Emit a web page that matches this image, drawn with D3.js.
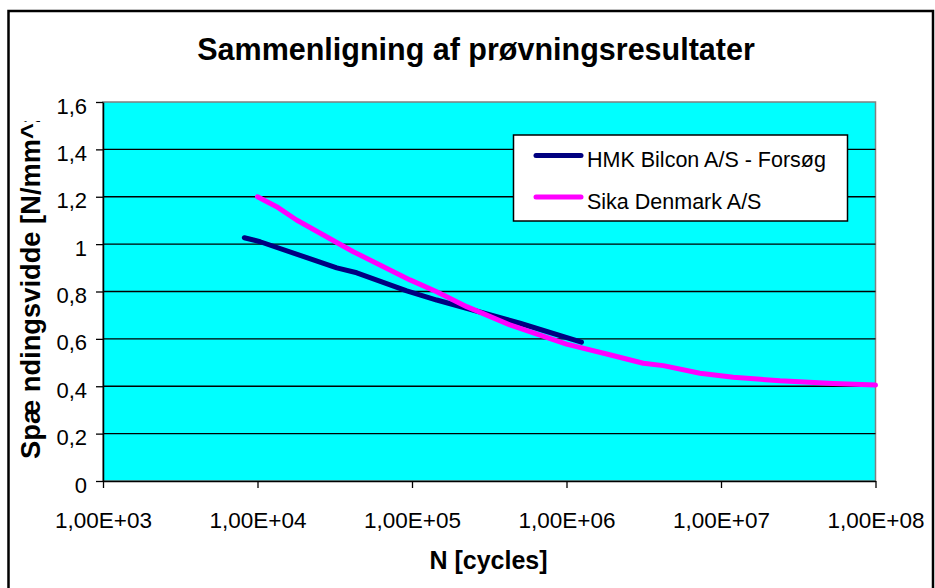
<!DOCTYPE html>
<html>
<head>
<meta charset="utf-8">
<script src="https://cdn.jsdelivr.net/npm/d3@7"></script>
<style>
  html, body { margin: 0; padding: 0; background: #fff; }
  svg { display: block; font-family: "Liberation Sans", Arial, sans-serif; }
</style>
</head>
<body>
<svg id="chart" width="935" height="588"></svg>
<script>
// Fatigue test comparison: stress range vs. number of cycles (log scale)
const seriesNames = ["HMK Bilcon A/S - Forsøg", "Sika Denmark A/S"];
const seriesColors = ["#000080", "#FF00FF"];

const hmkCycles = [8220, 10400, 32600, 43900, 92500, 144600, 500000, 1250000];
const hmkStress = [1.027, 1.010, 0.900, 0.879, 0.803, 0.764, 0.666, 0.586];

const sikaCycles = [10000, 13300, 17900, 41700, 97000, 144600, 226000, 430000, 1000000,
                    1820000, 3140000, 4230000, 7310000, 12000000, 24100000, 53300000, 100000000];
const sikaStress = [1.200, 1.158, 1.102, 0.968, 0.849, 0.799, 0.736, 0.659, 0.578,
                    0.536, 0.497, 0.487, 0.455, 0.438, 0.423, 0.412, 0.405];

const xTicks = [1e3, 1e4, 1e5, 1e6, 1e7, 1e8];
const xTickLabels = ["1,00E+03", "1,00E+04", "1,00E+05", "1,00E+06", "1,00E+07", "1,00E+08"];
const yTicks = [0, 0.2, 0.4, 0.6, 0.8, 1, 1.2, 1.4, 1.6];
const yTickLabels = ["0", "0,2", "0,4", "0,6", "0,8", "1", "1,2", "1,4", "1,6"];

const chartTitle = "Sammenligning af prøvningsresultater";
const xTitle = "N [cycles]";
const yTitle = "Spæ ndingsvidde [N/mm^2]";

const svg = d3.select("#chart");
const plot = { left: 103, right: 875.5, top: 102, bottom: 481 };

const x = d3.scaleLog().domain([1e3, 1e8]).range([plot.left, plot.right]);
const y = d3.scaleLinear().domain([0, 1.6]).range([plot.bottom, plot.top]);

// outer chart frame
svg.append("rect")
  .attr("x", 8.5).attr("y", 11)
  .attr("width", 924.5).attr("height", 620)
  .attr("fill", "#fff").attr("stroke", "#000").attr("stroke-width", 2.5);

// plot area
svg.append("rect")
  .attr("x", plot.left).attr("y", plot.top)
  .attr("width", plot.right - plot.left).attr("height", plot.bottom - plot.top)
  .attr("fill", "#00FFFF").attr("stroke", "#808080").attr("stroke-width", 1.5);

// horizontal gridlines
svg.append("g")
  .selectAll("line")
  .data(yTicks.filter(d => d > 0 && d < 1.6))
  .join("line")
  .attr("x1", plot.left).attr("x2", plot.right)
  .attr("y1", d => y(d)).attr("y2", d => y(d))
  .attr("stroke", "#000").attr("stroke-width", 1.3);

// y axis
const yAxis = svg.append("g")
  .attr("transform", `translate(${plot.left},0)`)
  .call(d3.axisLeft(y).tickValues(yTicks)
    .tickFormat((d, i) => yTickLabels[i]).tickSize(7).tickPadding(9).tickSizeOuter(0));
yAxis.select(".domain").attr("stroke", "#000").attr("stroke-width", 1.5);
yAxis.selectAll(".tick line").attr("stroke", "#000").attr("stroke-width", 1.3);
yAxis.selectAll(".tick text")
  .attr("font-size", 22).attr("fill", "#000")
  .attr("font-family", "Liberation Sans, Arial, sans-serif")
  .attr("dy", "0.5em");

// x axis
const xAxis = svg.append("g")
  .attr("transform", `translate(0,${plot.bottom})`)
  .call(d3.axisBottom(x).tickValues(xTicks)
    .tickFormat((d, i) => xTickLabels[i]).tickSize(7).tickPadding(24).tickSizeOuter(0));
xAxis.select(".domain").attr("stroke", "#000").attr("stroke-width", 1.5);
xAxis.selectAll(".tick line").attr("stroke", "#000").attr("stroke-width", 1.3);
xAxis.selectAll(".tick text")
  .attr("font-size", 22.5).attr("fill", "#000")
  .attr("font-family", "Liberation Sans, Arial, sans-serif");

// series lines
const line = d3.line().x(d => x(d[0])).y(d => y(d[1]));
const series = [
  d3.zip(hmkCycles, hmkStress),
  d3.zip(sikaCycles, sikaStress)
];
series.forEach((pts, i) => {
  svg.append("path")
    .datum(pts)
    .attr("d", line)
    .attr("fill", "none")
    .attr("stroke", seriesColors[i])
    .attr("stroke-width", 5)
    .attr("stroke-linecap", "round")
    .attr("stroke-linejoin", "round");
});

// legend
const legend = svg.append("g");
legend.append("rect")
  .attr("x", 513.5).attr("y", 135)
  .attr("width", 334).attr("height", 86)
  .attr("fill", "#fff").attr("stroke", "#000").attr("stroke-width", 1.5);
const legendRows = [155.5, 197];
seriesNames.forEach((name, i) => {
  legend.append("line")
    .attr("x1", 536).attr("x2", 581)
    .attr("y1", legendRows[i]).attr("y2", legendRows[i])
    .attr("stroke", seriesColors[i]).attr("stroke-width", 5)
    .attr("stroke-linecap", "round");
  legend.append("text")
    .attr("x", 587).attr("y", legendRows[i] + 11.5)
    .attr("font-size", 21.5).attr("fill", "#000")
    .text(name);
});

// titles
svg.append("text")
  .attr("x", 476).attr("y", 60)
  .attr("text-anchor", "middle")
  .attr("font-size", 30.5).attr("font-weight", "bold")
  .text(chartTitle);

svg.append("text")
  .attr("x", 488.5).attr("y", 569)
  .attr("text-anchor", "middle")
  .attr("font-size", 25).attr("font-weight", "bold")
  .text(xTitle);

// the axis title is longer than the space it gets and is cut off at the top
svg.append("clipPath").attr("id", "ytitle-clip")
  .append("rect").attr("x", 0).attr("y", 121).attr("width", 60).attr("height", 470);
svg.append("g").attr("clip-path", "url(#ytitle-clip)")
  .append("text")
  .attr("transform", "translate(40,459) rotate(-90)")
  .attr("text-anchor", "start")
  .attr("font-size", 27.3).attr("font-weight", "bold")
  .text(yTitle);
</script>
</body>
</html>
